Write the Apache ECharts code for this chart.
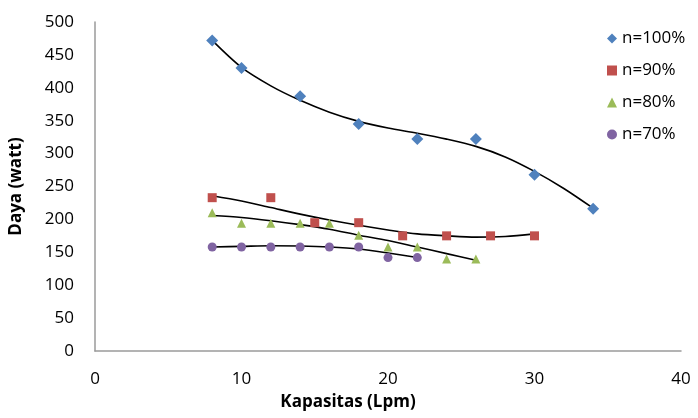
<!DOCTYPE html>
<html>
<head>
<meta charset="utf-8">
<script src="https://cdn.jsdelivr.net/npm/echarts@6/dist/echarts.min.js"></script>
<style>html,body{margin:0;padding:0;background:#fff}#c{width:698px;height:418px}</style>
</head>
<body>
<div id="c"></div>
<script>
var seriesNames = ['n=100%', 'n=90%', 'n=80%', 'n=70%'];
var xTicks = [0, 10, 20, 30, 40];
var yTicks = [0, 50, 100, 150, 200, 250, 300, 350, 400, 450, 500];

var x100 = [8, 10, 14, 18, 22, 26, 30, 34];
var y100 = [472, 430, 387, 345, 322, 322, 268, 216];
var x90 = [8, 12, 15, 18, 21, 24, 27, 30];
var y90 = [233, 233, 195, 195, 175, 175, 175, 175];
var x80 = [8, 10, 12, 14, 16, 18, 20, 22, 24, 26];
var y80 = [210, 194, 194, 194, 194, 176, 158, 158, 140, 140];
var x70 = [8, 10, 12, 14, 16, 18, 20, 22];
var y70 = [158, 158, 158, 158, 158, 158, 142, 142];

// trend lines
var tx100 = [8, 10, 12, 14, 16, 18, 20, 22, 24, 26, 28, 30, 32, 34];
var ty100 = [472, 431, 403, 381, 363, 349, 339, 331, 322, 311, 295, 273, 247, 217];
var tx90 = [8, 10, 12, 14, 16, 18, 20, 22, 24, 26, 28, 30];
var ty90 = [236, 228, 218, 208, 199, 191, 184, 178, 175, 173, 174, 178];
var tx80 = [8, 10, 12, 14, 16, 18, 20, 22, 24, 26];
var ty80 = [206, 203, 198, 192, 185, 176, 168, 158, 148, 138];
var tx70 = [8, 10, 12, 14, 16, 18, 20, 22];
var ty70 = [158, 159, 160, 159.5, 158, 155, 149, 142];

function pairs(xs, ys) { return xs.map(function (x, i) { return [x, ys[i]]; }); }

var colors = ['#4F81BD', '#C0504D', '#9BBB59', '#8064A2'];
var symbols = ['diamond', 'rect', 'triangle', 'circle'];
var sizes = [12, 9, 9, 9];
var pts = [pairs(x100, y100), pairs(x90, y90), pairs(x80, y80), pairs(x70, y70)];
var trends = [pairs(tx100, ty100), pairs(tx90, ty90), pairs(tx80, ty80), pairs(tx70, ty70)];

var series = [];
for (var i = 0; i < 4; i++) {
  series.push({
    type: 'line', data: trends[i], smooth: 0.3, showSymbol: false, silent: true,
    lineStyle: { color: '#000', width: 1.6 }, z: 1
  });
}
for (var j = 0; j < 4; j++) {
  series.push({
    name: seriesNames[j], type: 'scatter', data: pts[j], symbol: symbols[j],
    symbolSize: sizes[j], itemStyle: { color: colors[j], opacity: 1 }, z: 3
  });
}

var font = 'Open Sans';
var chart = echarts.init(document.getElementById('c'));
chart.setOption({
  animation: false,
  grid: { left: 94, right: 17, top: 22, bottom: 67 },
  legend: {
    data: seriesNames, orient: 'vertical', left: 602, top: 25,
    itemWidth: 10, itemHeight: 10, itemGap: 15,
    textStyle: { fontFamily: font, fontSize: 17, color: '#000' }
  },
  xAxis: {
    type: 'value', min: xTicks[0], max: xTicks[xTicks.length - 1], interval: 10,
    splitLine: { show: false }, axisTick: { show: false },
    axisLine: { lineStyle: { color: '#9a9a9a', width: 1.5 } },
    axisLabel: { fontFamily: font, fontSize: 17, color: '#000', margin: 20 },
    name: 'Kapasitas (Lpm)', nameLocation: 'middle', nameGap: 43,
    nameTextStyle: { fontFamily: font, fontSize: 17, fontWeight: 'bold', color: '#000', padding: [0, 80, 0, 0] }
  },
  yAxis: {
    type: 'value', min: yTicks[0], max: yTicks[yTicks.length - 1], interval: 50,
    splitLine: { show: false }, axisTick: { show: false },
    axisLine: { show: true, lineStyle: { color: '#9a9a9a', width: 1.5 } },
    axisLabel: { fontFamily: font, fontSize: 17, color: '#000', margin: 21 },
    name: 'Daya (watt)', nameLocation: 'middle', nameGap: 70,
    nameTextStyle: { fontFamily: font, fontSize: 17, fontWeight: 'bold', color: '#000' }
  },
  series: series
});
</script>
</body>
</html>
